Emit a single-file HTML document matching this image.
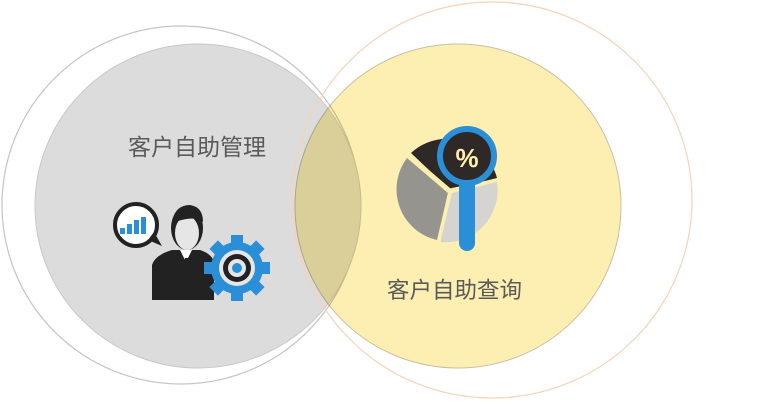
<!DOCTYPE html>
<html><head><meta charset="utf-8"><style>
html,body{margin:0;padding:0;background:#fff;}
svg{display:block;}
</style></head><body>
<svg width="779" height="401" viewBox="0 0 779 401" xmlns="http://www.w3.org/2000/svg">
  <ellipse cx="181" cy="205" rx="179" ry="179" fill="none" stroke="#c4c4c4" stroke-width="1.2"/>
  <ellipse cx="198" cy="206" rx="163" ry="162" fill="#dcdcdc" stroke="#c8c8c8" stroke-width="1"/>
  <ellipse cx="492" cy="200" rx="200" ry="198" fill="none" stroke="#f6d3b6" stroke-width="1.2"/>
  <ellipse cx="458" cy="206" rx="163" ry="162" fill="#fdefb2" style="mix-blend-mode:multiply" stroke="#c8c0a0" stroke-width="1"/>
  <text x="128" y="155" font-family="Liberation Sans, 'Noto Sans CJK SC', sans-serif" font-size="23" fill="#5a5a5a">客户自助管理</text>
  <text x="387" y="298" font-family="Liberation Sans, 'Noto Sans CJK SC', sans-serif" font-size="22.5" fill="#5a5a5a">客户自助查询</text>

  <!-- speech bubble -->
  <circle cx="136" cy="225" r="21" fill="#fff" stroke="#222" stroke-width="4"/>
  <path d="M148 240 L162 246 L154 232 Z" fill="#222"/>
  <rect x="120" y="228" width="5" height="6" fill="#2a8fd6"/>
  <rect x="127" y="224" width="5" height="10" fill="#2a8fd6"/>
  <rect x="134" y="220" width="5" height="14" fill="#2a8fd6"/>
  <rect x="141" y="217" width="5" height="17" fill="#2a8fd6"/>
  <!-- person -->
  <path d="M152 300 L152 265 Q155 255 172 250 L200 250 Q212 254 214 262 L214 300 Z" fill="#222"/>
  <path d="M180 250 L186 262 L192 250 Z" fill="#fff"/>
  <path d="M185 258 L188 258 L190 272 L186 277 L183 272 Z" fill="#222"/>
  <ellipse cx="187" cy="228" rx="16" ry="22" fill="#222"/>
  <ellipse cx="187" cy="233" rx="12" ry="17" fill="#e6e6e6"/>
  <path d="M172 222 Q175 205 190 205 Q203 207 203 222 Q195 215 175 222 Z" fill="#222"/>
  <!-- gear -->
  <g transform="translate(237,268)">
    <g fill="#2a8fd6">
      <circle r="26"/>
      <rect x="-6" y="-33" width="12" height="66"/>
      <rect x="-6" y="-33" width="12" height="66" transform="rotate(45)"/>
      <rect x="-6" y="-33" width="12" height="66" transform="rotate(90)"/>
      <rect x="-6" y="-33" width="12" height="66" transform="rotate(135)"/>
    </g>
    <circle r="18" fill="#e6e6e6"/>
    <circle r="14" fill="#222"/>
    <circle r="9" fill="#e6e6e6"/>
    <circle r="5" fill="#2a8fd6"/>
  </g>

  <!-- pie -->
  <path d="M450 190 L411 153 A52 52 0 0 1 497 178 Z" fill="#2e2826"/>
  <path d="M448 193 L407 158 A52 52 0 0 0 437 240 Z" fill="#96948e"/>
  <path d="M452 193 L497 182 A52 52 0 0 1 440 242 Z" fill="#d6d4d0"/>
  <path d="M450 190 L409 155 M450 190 L439 242 M450 190 L497 180" stroke="#fdeeb0" stroke-width="3"/>
  <!-- magnifier -->
  <rect x="459" y="175" width="16" height="76" rx="8" fill="#2a8fd6"/>
  <circle cx="467" cy="156" r="27" fill="#2e2826" stroke="#2a8fd6" stroke-width="6"/>
  <text x="467" y="167" text-anchor="middle" font-family="Liberation Sans, sans-serif" font-weight="bold" font-size="26" fill="#fdeeb0">%</text>
</svg>
</body></html>
